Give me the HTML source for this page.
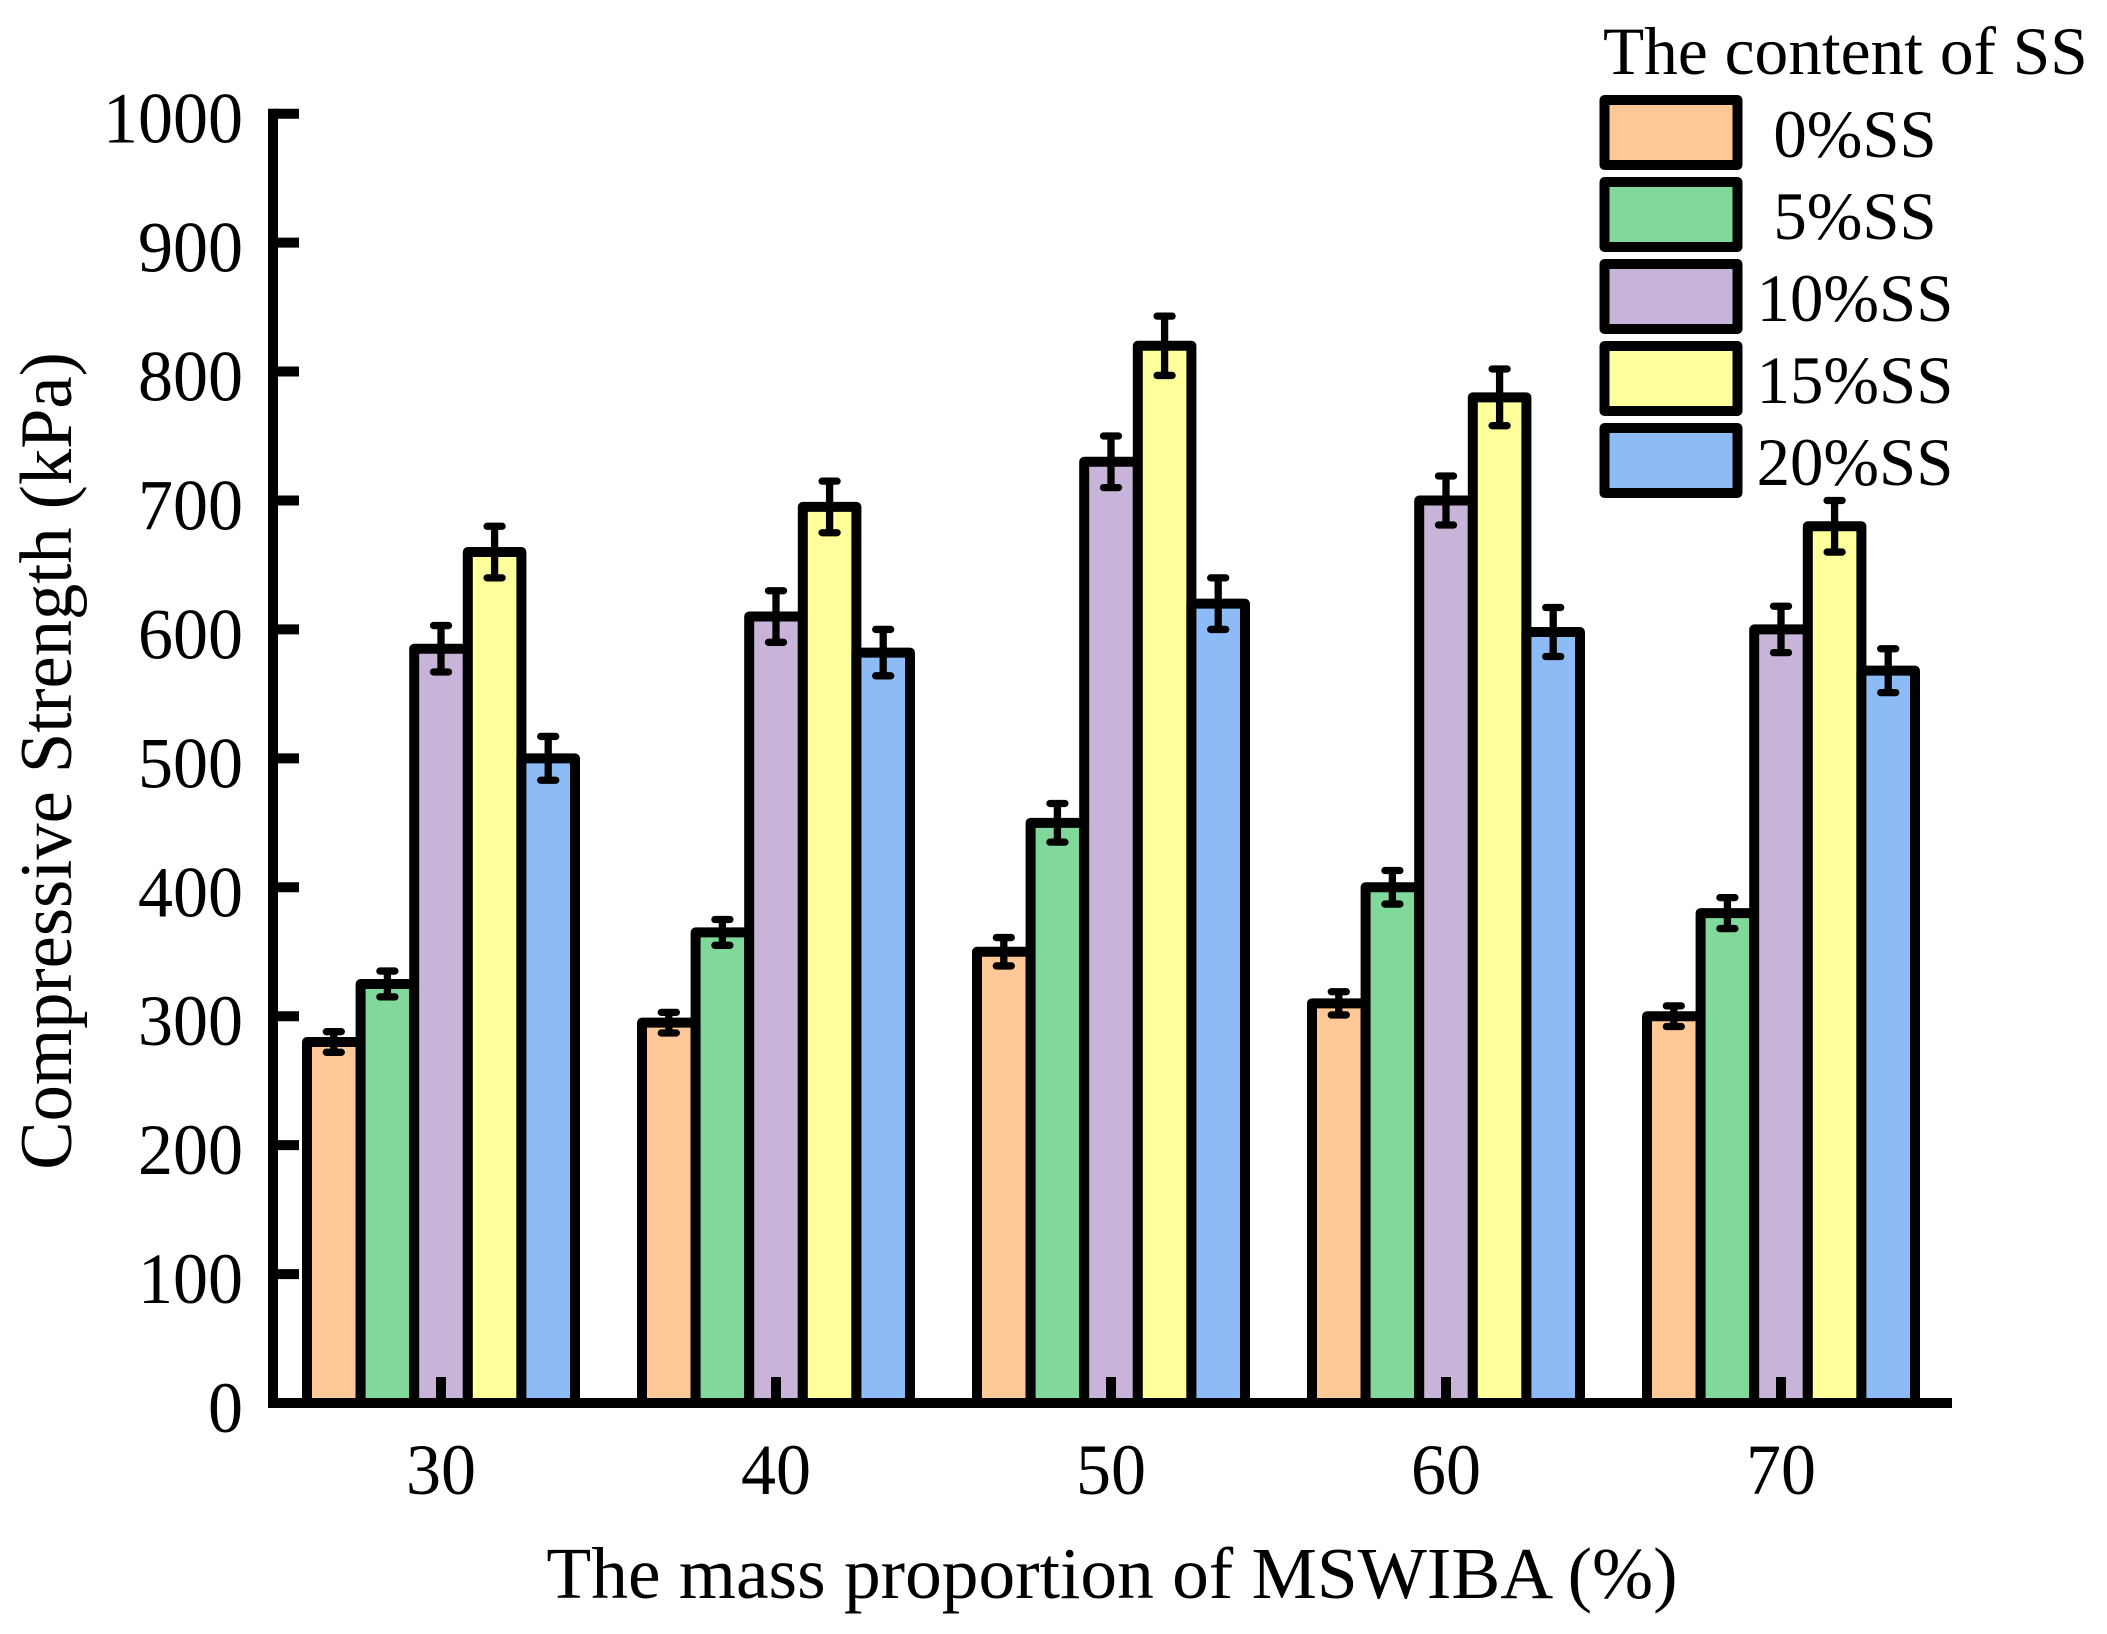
<!DOCTYPE html>
<html>
<head>
<meta charset="utf-8">
<style>
html,body{margin:0;padding:0;background:#fff;}
svg{display:block;}
text{font-family:"Liberation Serif",serif;fill:#000;}
</style>
</head>
<body>
<svg id="chart" xmlns="http://www.w3.org/2000/svg" width="2107" height="1634" viewBox="0 0 2107 1634">
<rect x="0" y="0" width="2107" height="1634" fill="#fff"/>
<g id="bars"></g>
<g id="axes"></g>
<g id="legend"></g>
<text text-anchor="middle" font-size="73.4" transform="translate(1112,1598) scale(1,0.99)">The mass proportion of MSWIBA (%)</text>
<text text-anchor="middle" font-size="72.5" transform="translate(71,761) rotate(-90) scale(1,1.02)">Compressive Strength (kPa)</text>
<text x="0" y="0" font-size="67.4" transform="translate(1603,74) scale(1,1.0)">The content of SS</text>
</svg>
<script>
var categories = ["30", "40", "50", "60", "70"];
var seriesNames = ["0%SS", "5%SS", "10%SS", "15%SS", "20%SS"];
var seriesColors = ["#FFC896", "#80D89B", "#C8B4D8", "#FFFF9C", "#8CBBF5"];
var values0 = [280, 295, 350, 310, 300];
var values5 = [325, 365, 450, 400, 380];
var values10 = [585, 610, 730, 700, 600];
var values15 = [660, 695, 820, 780, 680];
var values20 = [500, 582, 620, 598, 568];
var errors0 = [8, 8, 11, 9, 8];
var errors5 = [10, 10, 15, 13, 12];
var errors10 = [18, 20, 20, 19, 18];
var errors15 = [20, 20, 23, 22, 20];
var errors20 = [17, 18, 20, 19, 17];
var yTicks = [0, 100, 200, 300, 400, 500, 600, 700, 800, 900, 1000];

var seriesValues = [values0, values5, values10, values15, values20];
var seriesErrors = [errors0, errors5, errors10, errors15, errors20];
var NS = "http://www.w3.org/2000/svg";
var STROKE = 10;

function yScale(v) { return 1403 - v * 1.2893; }
function xCenter(i) { return 441 + i * 335; }
function barLeft(i, s) { return xCenter(i) - 134 + s * 53.6; }

function make(parent, tag, attrs) {
  var el = document.createElementNS(NS, tag);
  for (var k in attrs) { el.setAttribute(k, attrs[k]); }
  parent.appendChild(el);
  return el;
}

var barsG = document.getElementById("bars");
var axesG = document.getElementById("axes");
var legendG = document.getElementById("legend");

seriesValues.forEach(function (vals, s) {
  vals.forEach(function (v, i) {
    var top = yScale(v);
    var bar = make(barsG, "rect", {
      x: barLeft(i, s), y: top, width: 53.6, height: yScale(0) - top,
      fill: seriesColors[s], stroke: "#000", "stroke-width": STROKE, "stroke-linejoin": "round"
    });
    
    
  });
});

seriesValues.forEach(function (vals, s) {
  vals.forEach(function (v, i) {
    var cx = barLeft(i, s) + 26.8;
    var hi = yScale(v + seriesErrors[s][i]);
    var lo = yScale(v - seriesErrors[s][i]);
    var d = "M" + cx + " " + hi + "V" + lo +
            "M" + (cx - 7.5) + " " + hi + "H" + (cx + 7.5) +
            "M" + (cx - 7.5) + " " + lo + "H" + (cx + 7.5);
    var eb = make(barsG, "path", { d: d, fill: "none", stroke: "#000", "stroke-width": 7.3, "stroke-linecap": "round" });
    
    
  });
});

var yLine = make(axesG, "line", { x1: 273, x2: 273, y1: yScale(1000) - 5, y2: yScale(0) + 5, stroke: "#000", "stroke-width": STROKE });



var xLine = make(axesG, "line", { x1: 268, x2: 1952, y1: yScale(0), y2: yScale(0), stroke: "#000", "stroke-width": STROKE });



yTicks.forEach(function (t) {
  var y = yScale(t);
  var tick = make(axesG, "line", { x1: 273, x2: 299, y1: y, y2: y, stroke: "#000", "stroke-width": STROKE });
  
  
  var lab = make(axesG, "text", { "text-anchor": "end", "font-size": 70, transform: "translate(243," + (y + 29) + ") scale(1,1.03)" });
  
  
  lab.textContent = String(t);
});

categories.forEach(function (c, i) {
  var x = xCenter(i);
  var tick = make(axesG, "line", { x1: x, x2: x, y1: 1377, y2: yScale(0), stroke: "#000", "stroke-width": STROKE });
  
  
  var lab = make(axesG, "text", { "text-anchor": "middle", "font-size": 70, transform: "translate(" + x + ",1494) scale(1,1.03)" });
  
  
  lab.textContent = c;
});

seriesNames.forEach(function (name, s) {
  var ty = 100 + s * 82;
  var sw = make(legendG, "rect", {
    x: 1604.5, y: ty, width: 133, height: 65, fill: seriesColors[s],
    stroke: "#000", "stroke-width": STROKE, "stroke-linejoin": "round"
  });
  
  
  var lab = make(legendG, "text", { "text-anchor": "middle", "font-size": 66.8, transform: "translate(1855," + (ty + 57) + ") scale(1,1.01)" });
  
  
  lab.textContent = name;
});
</script>
</body>
</html>
